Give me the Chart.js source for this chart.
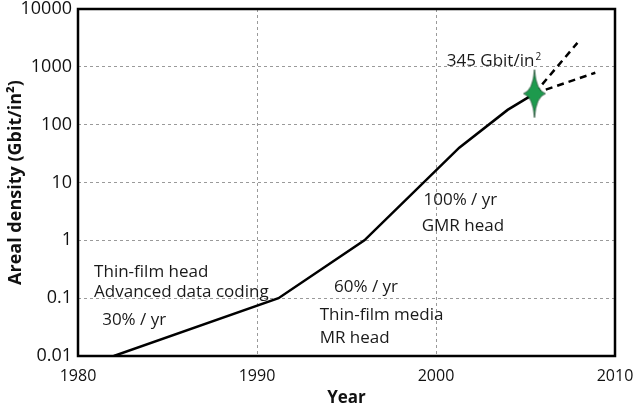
<!DOCTYPE html>
<html>
<head>
<meta charset="utf-8">
<script src="https://cdn.jsdelivr.net/npm/chart.js@4.4.0/dist/chart.umd.min.js"></script>
<style>
  html, body { margin: 0; padding: 0; background: #fff; }
  #wrap { width: 637px; height: 411px; }
</style>
</head>
<body>
<div id="wrap"><canvas id="densityChart"></canvas></div>
<script>
// Areal density history (Gbit/in^2), log scale
const years     = [1982, 1991.2, 1996, 2001.3, 2004, 2005.5];
const densities = [0.01, 0.1,    1,    40,     180,  345];

// two projections fanning out from the last point
const fastYears     = [2005.5, 2007.9];
const fastDensities = [345, 2600];
const slowYears     = [2005.5, 2008.9];
const slowDensities = [345, 790];

const milestoneYears     = [2005.5];
const milestoneDensities = [345];

const yTicks = [0.01, 0.1, 1, 10, 100, 1000, 10000];
const xTicks = [1980, 1990, 2000, 2010];

// text notes anchored in data units (year, density)
const notes = [
  { text: 'Thin-film head',       year: 1980.9, value: 0.23 },
  { text: 'Advanced data coding', year: 1980.9, value: 0.104 },
  { text: '30% / yr',             year: 1981.35, value: 0.034 },
  { text: '60% / yr',             year: 1994.3, value: 0.128 },
  { text: 'Thin-film media',      year: 1993.5, value: 0.042 },
  { text: 'MR head',              year: 1993.5, value: 0.0168 },
  { text: '100% / yr',            year: 1999.3, value: 4.1 },
  { text: 'GMR head',             year: 1999.2, value: 1.45 },
  { text: '345 Gbit/in', sup: '2', year: 2000.6, value: 1040 }
];

const FONT = '"Open Sans", "DejaVu Sans", sans-serif';

function toPoints(xs, ys) {
    return xs.map((x, i) => ({ x: x, y: ys[i] }));
}

// four-pointed green star used as the point marker
function makeStar() {
    const c = document.createElement('canvas');
    c.width = 26;
    c.height = 54;
    const g = c.getContext('2d');
    const cx = 13, cy = 27;
    g.beginPath();
    g.moveTo(cx, cy - 24);
    g.quadraticCurveTo(cx + 1.5, cy - 3, cx + 11, cy);
    g.quadraticCurveTo(cx + 1.5, cy + 3, cx, cy + 24);
    g.quadraticCurveTo(cx - 1.5, cy + 3, cx - 11, cy);
    g.quadraticCurveTo(cx - 1.5, cy - 3, cx, cy - 24);
    g.closePath();
    g.fillStyle = '#1d9a4d';
    g.fill();
    g.strokeStyle = '#0d3b1f';
    g.lineWidth = 0.7;
    g.stroke();
    return c;
}

// drop the automatic label overhang so layout.padding sets the plot box
function noOverhang(scale) {
    scale.paddingTop = 0;
    scale.paddingBottom = 0;
    scale.paddingLeft = 0;
    scale.paddingRight = 0;
}

const framePlugin = {
    id: 'frame',
    beforeDatasetsDraw(chart) {
        const { ctx, chartArea: a } = chart;
        ctx.save();
        ctx.strokeStyle = '#000';
        ctx.lineWidth = 2.5;
        ctx.strokeRect(a.left, a.top, a.right - a.left, a.bottom - a.top);
        ctx.restore();
    }
};

const notesPlugin = {
    id: 'notes',
    afterDatasetsDraw(chart) {
        const { ctx, scales } = chart;
        ctx.save();
        ctx.fillStyle = '#1a1a1a';
        ctx.textBaseline = 'alphabetic';
        ctx.textAlign = 'left';
        notes.forEach(n => {
            const px = scales.x.getPixelForValue(n.year);
            const py = scales.y.getPixelForValue(n.value);
            ctx.font = '17px ' + FONT;
            ctx.fillText(n.text, px, py);
            if (n.sup) {
                const w = ctx.measureText(n.text).width;
                ctx.font = '10px ' + FONT;
                ctx.fillText(n.sup, px + w + 1, py - 6);
            }
        });
        ctx.restore();
    }
};

const ctx = document.getElementById('densityChart').getContext('2d');

new Chart(ctx, {
    type: 'line',
    data: {
        datasets: [
            {
                data: toPoints(milestoneYears, milestoneDensities),
                pointStyle: makeStar(),
                showLine: false,
                order: 0
            },
            {
                data: toPoints(years, densities),
                borderColor: '#000',
                borderWidth: 2.5,
                pointRadius: 0,
                tension: 0,
                order: 1
            },
            {
                data: toPoints(fastYears, fastDensities),
                borderColor: '#000',
                borderWidth: 2.5,
                borderDash: [7, 5],
                pointRadius: 0,
                order: 1
            },
            {
                data: toPoints(slowYears, slowDensities),
                borderColor: '#000',
                borderWidth: 2.5,
                borderDash: [7, 5],
                pointRadius: 0,
                order: 1
            }
        ]
    },
    options: {
        responsive: true,
        maintainAspectRatio: false,
        animation: false,
        layout: { padding: { top: 9, right: 22 } },
        plugins: {
            legend: { display: false },
            tooltip: { enabled: false }
        },
        scales: {
            x: {
                type: 'linear',
                min: 1980,
                max: 2010,
                afterBuildTicks: scale => { scale.ticks = xTicks.map(v => ({ value: v })); },
                afterFit: scale => { scale.height = 55; noOverhang(scale); },
                grid: { color: '#9a9a9a', lineWidth: 1, drawTicks: false },
                border: { display: false, dash: [3, 3] },
                ticks: {
                    color: '#111',
                    padding: 11,
                    maxRotation: 0,
                    font: { family: FONT, size: 16 },
                    callback: v => String(v)
                },
                title: {
                    display: true,
                    text: 'Year',
                    color: '#111',
                    padding: { top: 0, bottom: 3 },
                    font: { family: FONT, size: 17, weight: 'bold' }
                }
            },
            y: {
                type: 'logarithmic',
                min: 0.01,
                max: 10000,
                afterBuildTicks: scale => { scale.ticks = yTicks.map(v => ({ value: v })); },
                afterFit: scale => { scale.width = 78; noOverhang(scale); },
                grid: { color: '#9a9a9a', lineWidth: 1, drawTicks: false },
                border: { display: false, dash: [3, 3] },
                ticks: {
                    color: '#111',
                    padding: 6,
                    font: { family: FONT, size: 18 },
                    callback: v => String(v)
                },
                title: {
                    display: true,
                    text: 'Areal density (Gbit/in²)',
                    color: '#111',
                    padding: { top: 5, bottom: 0 },
                    font: { family: FONT, size: 18, weight: 'bold' }
                }
            }
        }
    },
    plugins: [framePlugin, notesPlugin]
});
</script>
</body>
</html>
